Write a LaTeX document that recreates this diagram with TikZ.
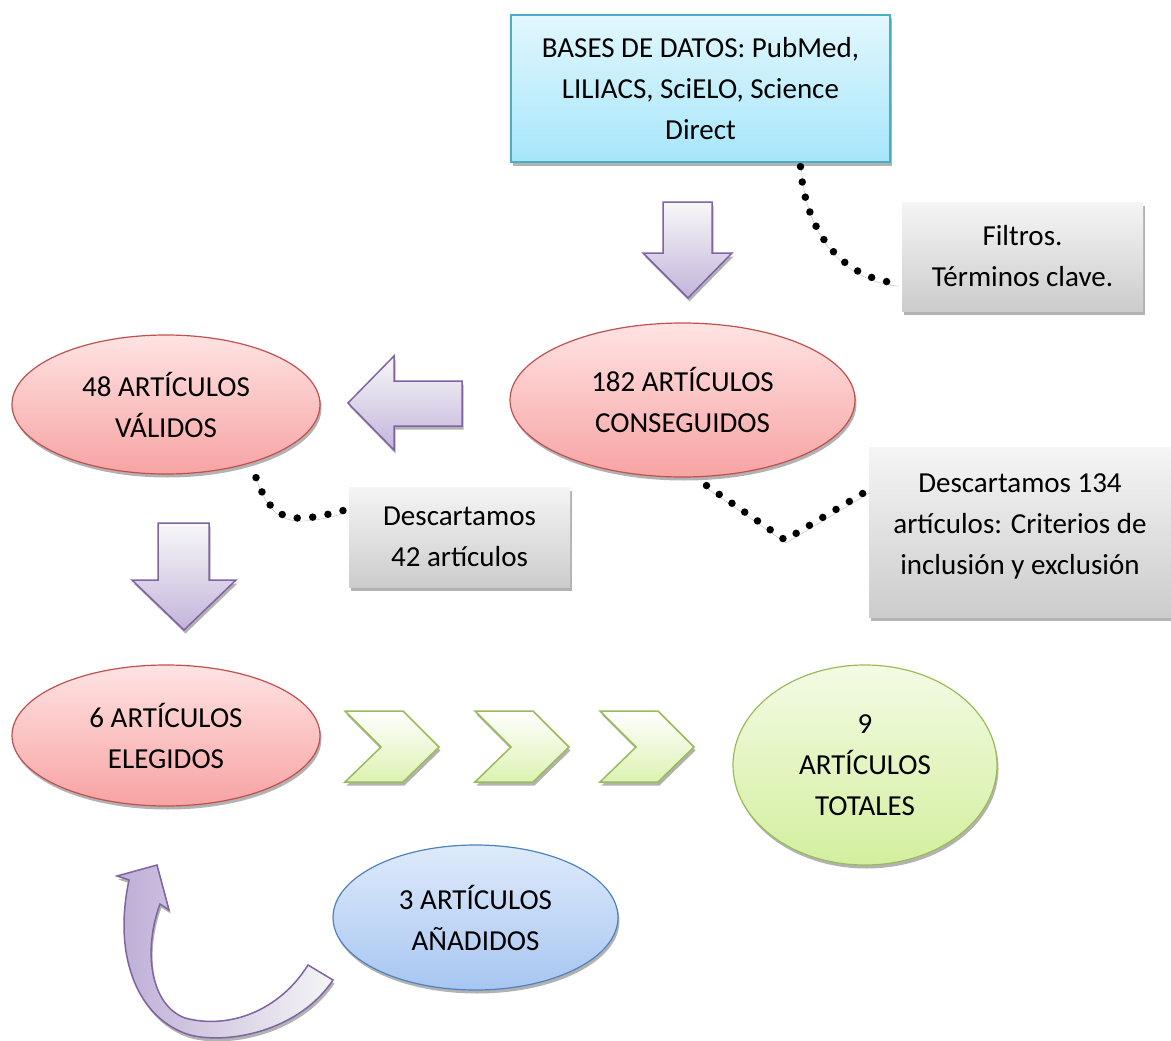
\documentclass[tikz,border=0pt]{standalone}
\usepackage{fontspec}
\setmainfont{Carlito}
\usetikzlibrary{shapes.geometric,shadows,calc}

\definecolor{cyantop}{HTML}{E2F7FD}
\definecolor{cyanbot}{HTML}{A6E6FA}
\definecolor{cyanline}{HTML}{4BACC6}
\definecolor{redtop}{HTML}{FFE3E3}
\definecolor{redbot}{HTML}{F7A3A3}
\definecolor{redline}{HTML}{C0504D}
\definecolor{greentop}{HTML}{F3FBE4}
\definecolor{greenbot}{HTML}{D3EF9E}
\definecolor{greenline}{HTML}{9BBB59}
\definecolor{bluetop}{HTML}{DEEAFB}
\definecolor{bluebot}{HTML}{A7C6F1}
\definecolor{blueline}{HTML}{4F81BD}
\definecolor{purpbot}{HTML}{C3B4DB}
\definecolor{purpline}{HTML}{8064A2}

\tikzset{
  txt/.style={font=\fontsize{29}{41}\selectfont, align=center, text=black, inner sep=0pt},
  shd/.style={drop shadow={shadow xshift=1.5pt, shadow yshift=-3.5pt, fill=black, opacity=.3}},
  cyanbox/.style={txt, shd, draw=cyanline, line width=1.2pt, top color=cyantop, bottom color=cyanbot},
  greybox/.style={txt, shd, top color=gray!8, bottom color=gray!40},
  redell/.style={txt, shd, ellipse, draw=redline, line width=1.2pt, top color=redtop, bottom color=redbot},
  greenell/.style={txt, shd, ellipse, draw=greenline, line width=1.2pt, top color=greentop, bottom color=greenbot},
  blueell/.style={txt, shd, ellipse, draw=blueline, line width=1.2pt, top color=bluetop, bottom color=bluebot},
  blockarrow/.style={shd, draw=purpline, line width=1.5pt, top color=gray!6, bottom color=purpbot, line join=miter},
  chevron/.style={shd, draw=greenline, line width=1.5pt, top color=white, bottom color=greenbot!80, line join=miter},
  dotline/.style={line width=7.5pt, line cap=round, dash pattern=on 0pt off 15.5pt,
    preaction={draw=gray!55, transform canvas={xshift=1pt, yshift=-3pt}}}
}

\begin{document}
\begin{tikzpicture}[x=1pt,y=-1pt]
    \useasboundingbox (0,0) rectangle (1171,1041);

    % boxes
    \node[cyanbox, minimum width=379pt, minimum height=147pt] (bases) at (700.5,88.5)
        {BASES DE DATOS: PubMed,\\LILIACS, SciELO, Science\\Direct};
    \node[greybox, minimum width=241pt, minimum height=109pt] (filtros) at (1022.5,256.5)
        {Filtros.\\Términos clave.};
    \node[greybox, minimum width=221pt, minimum height=100pt] (desc42) at (459.5,537)
        {Descartamos\\42 artículos};
    \node[greybox, minimum width=302pt, minimum height=170pt, text depth=16pt] (desc134) at (1020,532)
        {Descartamos 134\\artículos: Criterios de\\inclusión y exclusión};

    % ellipses
    \node[redell, minimum width=345pt, minimum height=154pt] (conseg) at (682.5,400)
        {182 ARTÍCULOS\\CONSEGUIDOS};
    \node[redell, minimum width=308pt, minimum height=139pt] (valid) at (166,404.5)
        {48 ARTÍCULOS\\VÁLIDOS};
    \node[redell, minimum width=308pt, minimum height=141pt] (elegid) at (166,735.5)
        {6 ARTÍCULOS\\ELEGIDOS};
    \node[greenell, minimum width=264pt, minimum height=200pt] (total) at (865,765)
        {9\\ARTÍCULOS\\TOTALES};
    \node[blueell, minimum width=285pt, minimum height=145pt] (anadid) at (475.5,917.5)
        {3 ARTÍCULOS\\AÑADIDOS};

    % dotted call-outs
    \draw[dotline] ($(bases.south)+(100,4)$) .. controls (805,230) and (840,278) .. ($(filtros.south west)+(-4,-28)$);
    \draw[dotline] ($(valid.south)+(90,3)$) .. controls (272,522) and (290,525) .. ($(desc42.north west)+(-3,23)$);
    \draw[dotline] ($(conseg.south)+(24,8)$) -- (785,540) -- ($(desc134.north west)+(0,43)$);

    % block arrows
    \draw[blockarrow] (663,202) -- (712,202) -- (712,253) -- (732,253) -- (688,298) -- (643,253) -- (663,253) -- cycle;
    \draw[blockarrow] (462,381) -- (462,426) -- (394,426) -- (394,450) -- (348,403) -- (394,356) -- (394,381) -- cycle;
    \draw[blockarrow] (158,523) -- (209,523) -- (209,580) -- (236,580) -- (184,630) -- (132,580) -- (158,580) -- cycle;

    % chevrons
    \foreach \cx in {345,475,600}
        \draw[chevron] (\cx,711) -- ++(58,0) -- ++(36,36) -- ++(-36,35) -- ++(-58,0) -- ++(36,-35) -- cycle;

    % curved arrow back up
    \draw[shd, draw=purpline, line width=1.5pt, left color=purpbot!90!purpline, right color=gray!8, line join=miter]
        (308,965) -- (333,980)
        .. controls (300,1030) and (230,1045) .. (190,1035)
        .. controls (140,1020) and (112,960) .. (129,880)
        -- (117,876) -- (157,865) -- (169,910) -- (160,904)
        .. controls (143,950) and (150,1005) .. (185,1018)
        .. controls (230,1030) and (280,1010) .. (308,965) -- cycle;
\end{tikzpicture}
\end{document}
